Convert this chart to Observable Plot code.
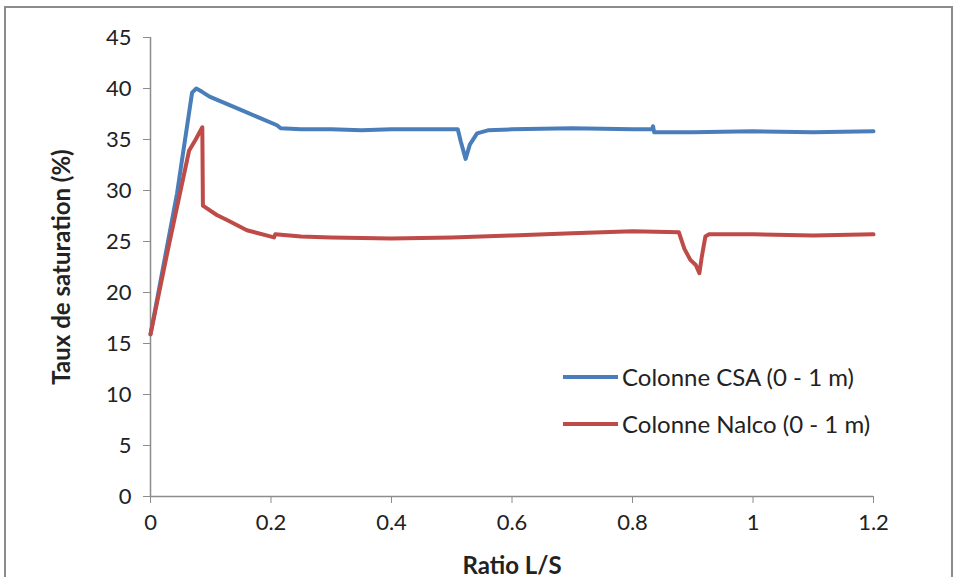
<!DOCTYPE html>
<html>
<head>
<meta charset="utf-8">
<script src="https://cdn.jsdelivr.net/npm/d3@7"></script>
<script src="https://cdn.jsdelivr.net/npm/@observablehq/plot@0.6"></script>
<style>
  html, body { margin: 0; padding: 0; background: #fff; }
  #wrap { position: relative; width: 956px; height: 577px; overflow: hidden; font-family: Lato, "Open Sans", sans-serif; }
  #frame { position: absolute; left: 4px; top: 6px; width: 949px; height: 600px; border: 2px solid #8c8c8c; box-sizing: border-box; pointer-events: none; }
  #legend { position: absolute; left: 563px; top: 353px; font-size: 24px; color: #222; }
  .item { display: flex; align-items: center; height: 47px; }
  .sw { width: 55px; height: 4px; margin-right: 4px; }
</style>
</head>
<body>
<div id="wrap">
  <div id="chart"></div>
  <div id="frame"></div>
  <div id="legend">
    <div class="item"><div class="sw" style="background:#4a7ebb"></div>Colonne CSA (0 - 1 m)</div>
    <div class="item"><div class="sw" style="background:#be4b48"></div>Colonne Nalco (0 - 1 m)</div>
  </div>
</div>
<script>
const seriesNames = ["Colonne CSA (0 - 1 m)", "Colonne Nalco (0 - 1 m)"];
const seriesColors = ["#4a7ebb", "#be4b48"];

const csaX = [0, 0.044, 0.069, 0.076, 0.085, 0.098, 0.15, 0.21, 0.216, 0.25, 0.3, 0.35, 0.4, 0.45, 0.5, 0.51, 0.515, 0.523, 0.53, 0.542, 0.56, 0.6, 0.7, 0.8, 0.833, 0.834, 0.836, 0.9, 1.0, 1.1, 1.2];
const csaY = [15.9, 29.7, 39.6, 40.0, 39.7, 39.2, 37.9, 36.4, 36.1, 36.0, 36.0, 35.9, 36.0, 36.0, 36.0, 36.0, 34.8, 33.1, 34.5, 35.6, 35.9, 36.0, 36.1, 36.0, 36.0, 36.3, 35.7, 35.7, 35.8, 35.7, 35.8];

const nalcoX = [0, 0.03, 0.064, 0.075, 0.086, 0.087, 0.09, 0.11, 0.127, 0.16, 0.205, 0.207, 0.25, 0.3, 0.4, 0.5, 0.6, 0.7, 0.8, 0.877, 0.886, 0.896, 0.905, 0.911, 0.915, 0.921, 0.927, 1.0, 1.1, 1.2];
const nalcoY = [15.9, 24.5, 33.9, 35.0, 36.2, 28.5, 28.4, 27.6, 27.1, 26.1, 25.4, 25.7, 25.5, 25.4, 25.3, 25.4, 25.6, 25.8, 26.0, 25.9, 24.3, 23.2, 22.7, 21.9, 23.5, 25.5, 25.7, 25.7, 25.6, 25.7];

const xTicks = [0, 0.2, 0.4, 0.6, 0.8, 1, 1.2];
const yTicks = [0, 5, 10, 15, 20, 25, 30, 35, 40, 45];

const data = [
  ...csaX.map((x, i) => ({x, y: csaY[i], s: seriesNames[0]})),
  ...nalcoX.map((x, i) => ({x, y: nalcoY[i], s: seriesNames[1]}))
];

const chart = Plot.plot({
  width: 956, height: 577,
  marginLeft: 150, marginRight: 83, marginTop: 37, marginBottom: 81,
  style: {fontFamily: "Lato, 'Open Sans', sans-serif", fontSize: "22px", color: "#222", background: "transparent"},
  x: {domain: [0, 1.2], ticks: xTicks, tickFormat: d => String(d), label: null},
  y: {domain: [0, 45], ticks: yTicks, label: null},
  color: {domain: seriesNames, range: seriesColors},
  marks: [
    Plot.ruleX([0], {stroke: "#8c8c8c", strokeWidth: 1.5}),
    Plot.ruleY([0], {stroke: "#8c8c8c", strokeWidth: 1.5}),
    Plot.axisX({ticks: xTicks, tickSize: 7, tickPadding: 11, stroke: "#8c8c8c", fill: "#222", fontSize: 22, tickFormat: d => String(d), label: null}),
    Plot.axisY({ticks: yTicks, tickSize: 7, tickPadding: 12, stroke: "#8c8c8c", fill: "#222", fontSize: 22, label: null}),
    Plot.line(data, {x: "x", y: "y", z: "s", stroke: "s", strokeWidth: 4, strokeLinejoin: "round", strokeLinecap: "round"}),
    Plot.text(["Ratio L/S"], {frameAnchor: "bottom", dy: 77, text: d => d, fontWeight: "bold", fontSize: 24, fill: "#222"}),
    Plot.text(["Taux de saturation (%)"], {frameAnchor: "left", textAnchor: "middle", dx: -88, rotate: -90, text: d => d, fontWeight: "bold", fontSize: 24, fill: "#222"})
  ]
});
document.getElementById("chart").appendChild(chart);
</script>
</body>
</html>
